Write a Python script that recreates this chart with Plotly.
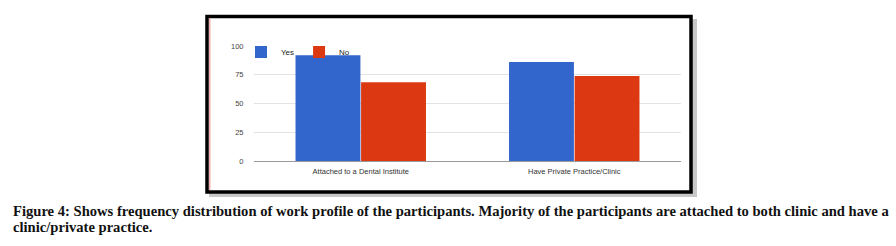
import plotly.graph_objects as go

categories = ["Attached to a Dental Institute", "Have Private Practice/Clinic"]
yes_values = [92, 86]
no_values = [68.5, 74]
y_ticks = [0, 25, 50, 75, 100]
caption_line1 = ("Figure 4: Shows frequency distribution of work profile of the participants. "
                 "Majority of the participants are attached to both clinic and have a")
caption_line2 = "clinic/private practice."

W, H = 896, 246
L, R, T, B = 254, 215, 46, 85
PW, PH = W - L - R, H - T - B


def px(x):
    return (x - L) / PW


def py(y):
    return (H - B - y) / PH


fig = go.Figure()
fig.add_trace(go.Bar(name="Yes", x=categories, y=yes_values, marker=dict(color="#3366cc", line=dict(width=0))))
fig.add_trace(go.Bar(name="No", x=categories, y=no_values, marker=dict(color="#dc3912", line=dict(width=0))))

shapes = [
    # shadow
    dict(type="rect", xref="paper", yref="paper", layer="below",
         x0=px(209), x1=px(697), y0=py(197), y1=py(19),
         fillcolor="#c8c8c8", line=dict(width=0)),
    # frame
    dict(type="rect", xref="paper", yref="paper", layer="below",
         x0=px(207), x1=px(691), y0=py(192), y1=py(16.5),
         fillcolor="white", line=dict(color="black", width=3.5)),
    dict(type="line", xref="paper", yref="paper", layer="below",
         x0=px(209.8), x1=px(209.8), y0=py(190), y1=py(18.5),
         line=dict(color="#f29a9a", width=1.2)),
]

annotations = [
    dict(text=caption_line1, xref="paper", yref="paper", x=px(11), y=py(210.5),
         xanchor="left", yanchor="middle", showarrow=False,
         font=dict(family="Liberation Serif", size=14.6, color="#111")),
    dict(text=caption_line2, xref="paper", yref="paper", x=px(11), y=py(227),
         xanchor="left", yanchor="middle", showarrow=False,
         font=dict(family="Liberation Serif", size=14.6, color="#111")),
]
for a in annotations:
    a["text"] = "<b>" + a["text"] + "</b>"

fig.update_layout(
    width=W, height=H,
    margin=dict(l=L, r=R, t=T, b=B, pad=0),
    paper_bgcolor="white", plot_bgcolor="rgba(0,0,0,0)",
    barmode="group", bargap=0.386, bargroupgap=0.01,
    font=dict(family="Arial, Liberation Sans", size=8, color="#444"),
    showlegend=True,
    legend=dict(orientation="h", x=px(241), y=py(52), xanchor="left", yanchor="middle",
                bgcolor="rgba(0,0,0,0)", font=dict(size=8, color="#222"),
                itemwidth=30, tracegroupgap=0),
    shapes=shapes,
    annotations=annotations,
    xaxis=dict(showgrid=False, ticks="outside", ticklen=3, tickcolor="rgba(0,0,0,0)",
               tickfont=dict(size=7.5, color="#333"), showline=False, zeroline=False),
    yaxis=dict(range=[0, 100], tickvals=y_ticks, showgrid=True, gridcolor="#e3e3e3", gridwidth=1,
               zeroline=True, zerolinecolor="#9a9a9a", zerolinewidth=1,
               ticks="outside", ticklen=8, tickcolor="rgba(0,0,0,0)",
               tickfont=dict(size=7.5, color="#444"), showline=False),
)

fig.write_html("out.html", config={"displayModeBar": False},
               post_script="document.body.style.margin='0';document.body.style.overflow='hidden';")
